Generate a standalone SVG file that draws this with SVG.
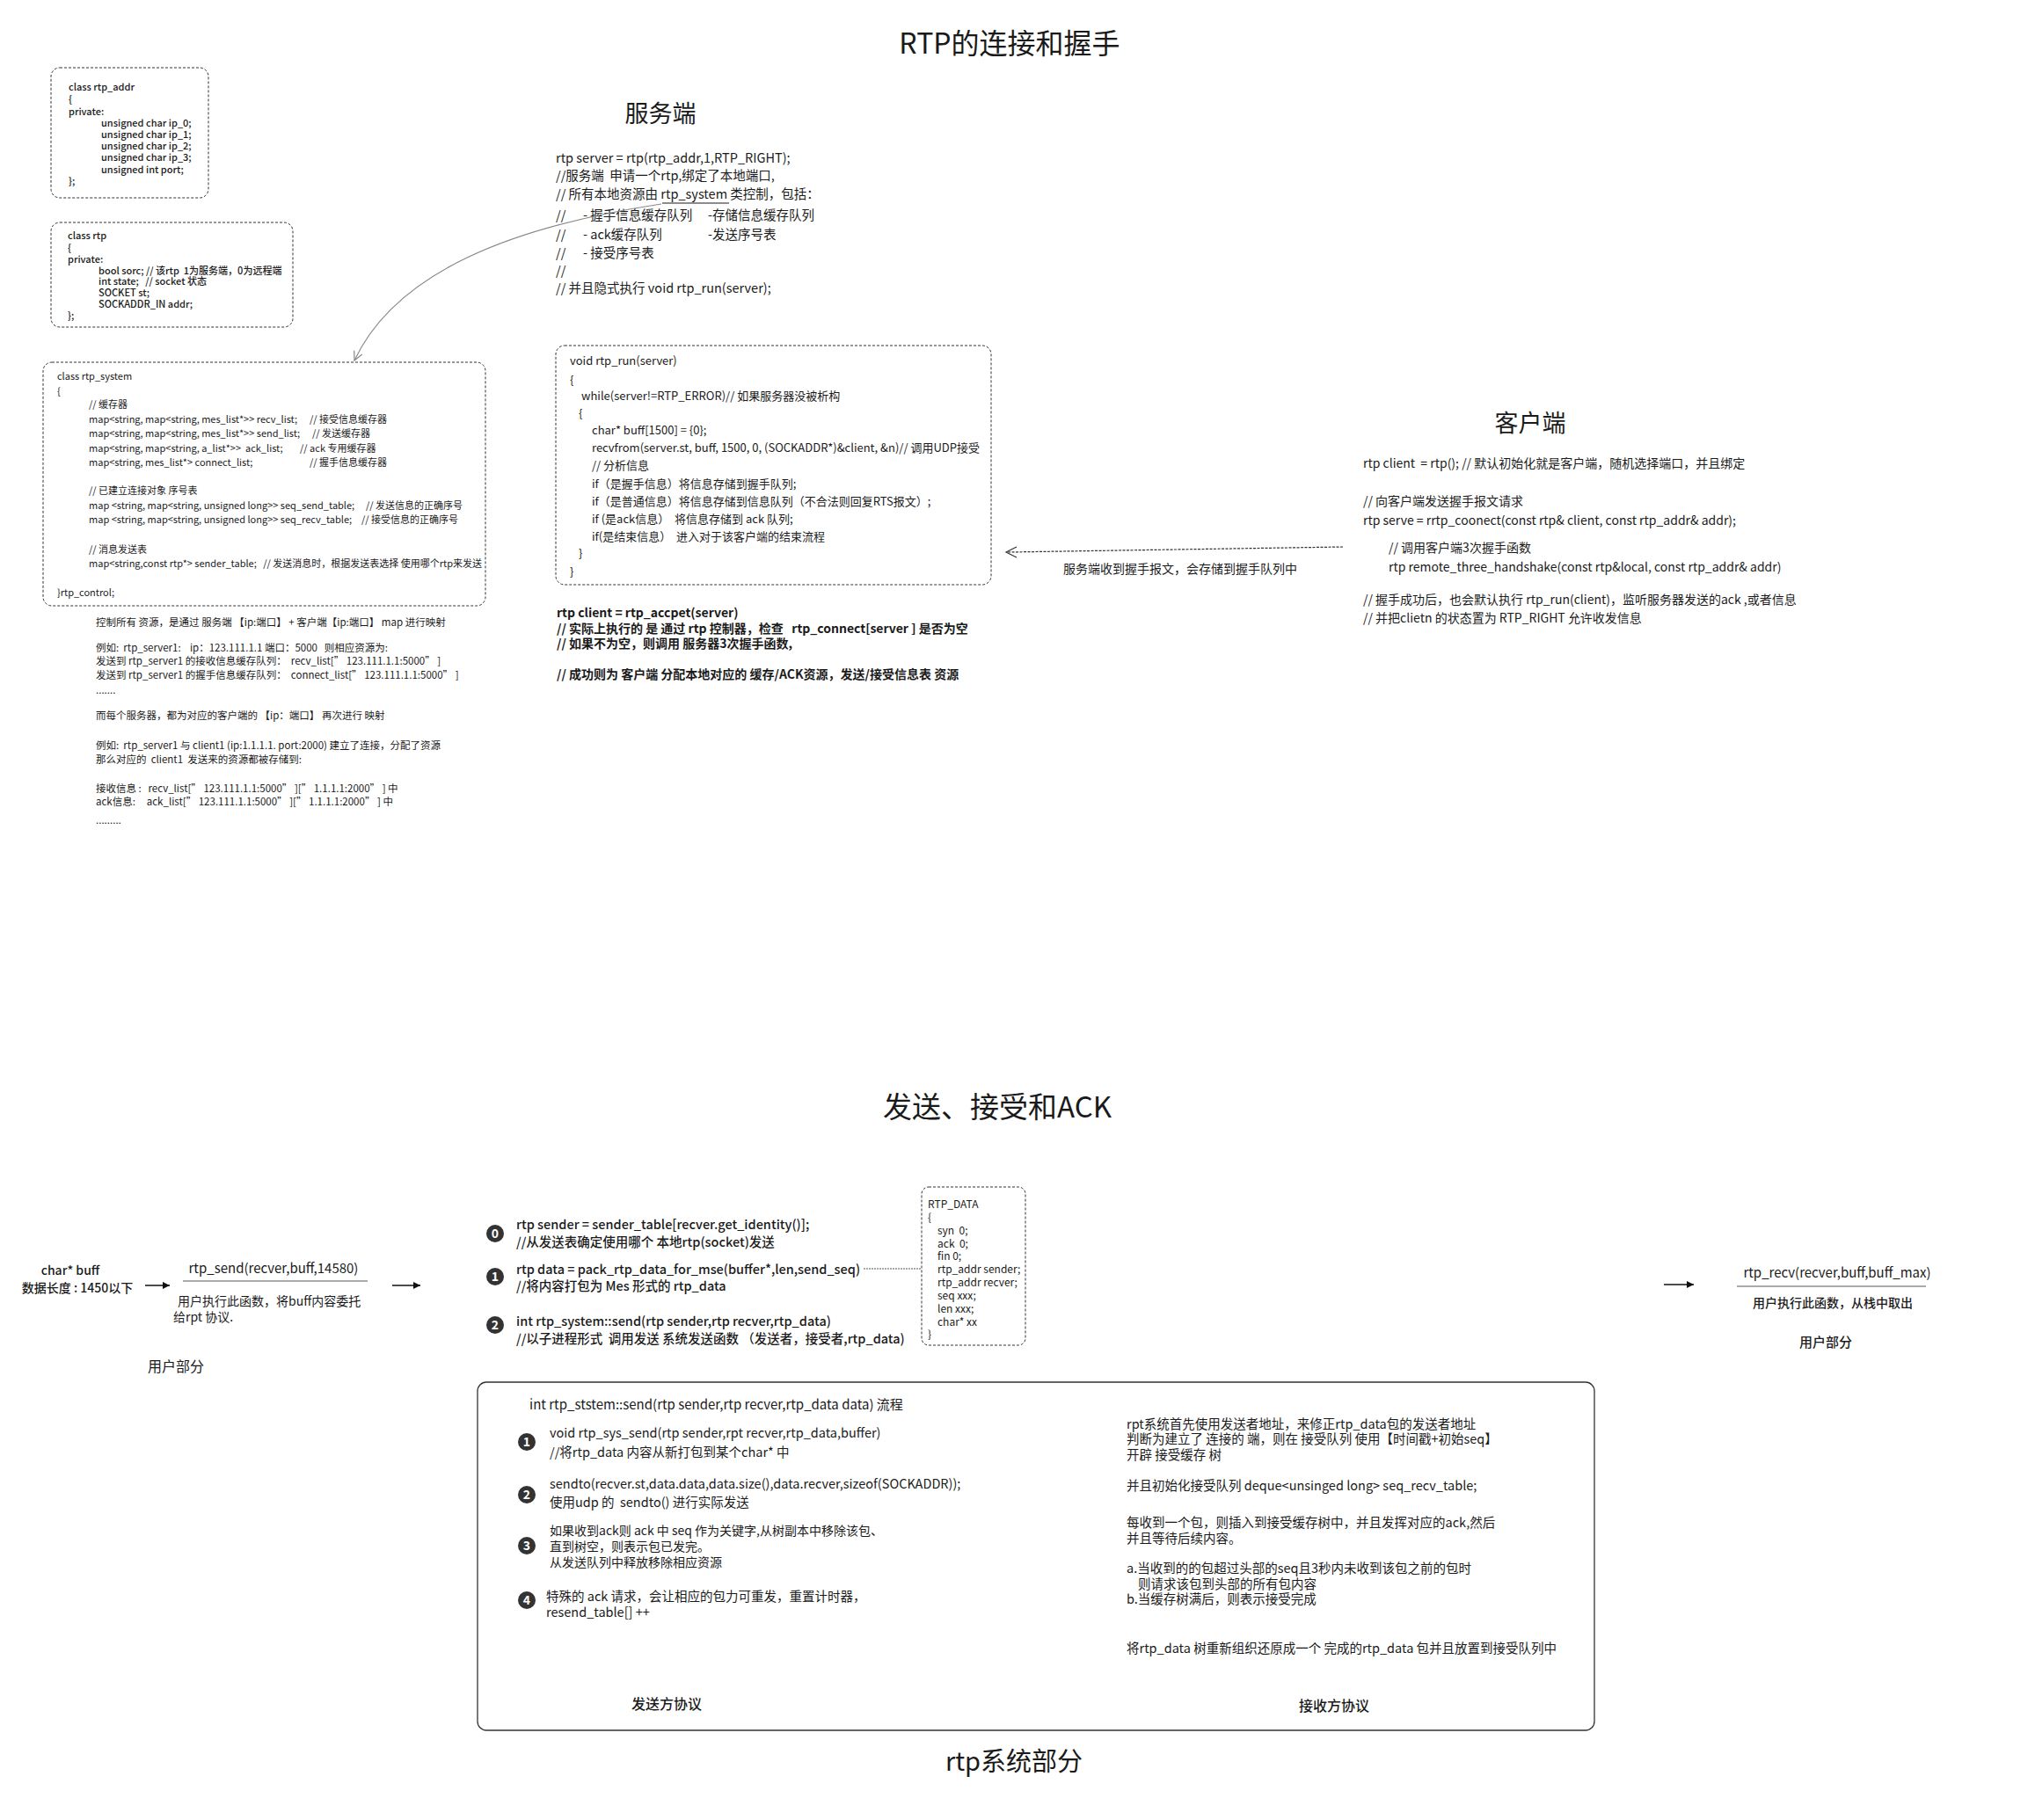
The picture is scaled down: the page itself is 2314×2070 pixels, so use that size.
<svg xmlns="http://www.w3.org/2000/svg" width="2314" height="2070" viewBox="0 0 2314 2070">
<style>
text { font-family: "Noto Sans CJK SC", "Noto Sans", sans-serif; fill: #1a1a1a; white-space: pre; }
.f11 { font-size: 11px; }
.f115 { font-size: 11.5px; }
.f13 { font-size: 13px; }
.f14 { font-size: 14px; }
.f145 { font-size: 14.5px; }
.f15 { font-size: 15px; }
.f16 { font-size: 16px; }
.b { font-weight: bold; }
.m { font-weight: 500; }
.c { text-anchor: middle; }
.dbox { fill: #fff; stroke: #333; stroke-width: 1; stroke-dasharray: 3 2; }
.num { fill: #333; }
.numt { fill: #fff; font-size: 14px; font-weight: bold; text-anchor: middle; }
</style>
<defs>
<marker id="openV" viewBox="0 0 12 12" refX="11" refY="6" markerWidth="12" markerHeight="12" markerUnits="userSpaceOnUse" orient="auto">
<path d="M1,1 L11,6 L1,11" fill="none" stroke="#888" stroke-width="1.2"/>
</marker>
<marker id="tri" viewBox="0 0 10 10" refX="10" refY="5" markerWidth="10" markerHeight="8" markerUnits="userSpaceOnUse" orient="auto">
<path d="M0,0 L10,5 L0,10 z" fill="#111"/>
</marker>
</defs>
<rect width="2314" height="2070" fill="#fff"/>

<g id="title1"><text x="1148" y="61" class="c" font-size="32">RTP的连接和握手</text></g>

<g id="rtp_addr">
<rect x="58" y="77" width="179" height="148" rx="10" class="dbox"/>
<text class="f11 m" x="78" y="103">class rtp_addr</text>
<text class="f11 m" x="78" y="117">{</text>
<text class="f11 m" x="78" y="131">private:</text>
<text class="f11 m" x="115" y="144">unsigned char ip_0;</text>
<text class="f11 m" x="115" y="157">unsigned char ip_1;</text>
<text class="f11 m" x="115" y="170">unsigned char ip_2;</text>
<text class="f11 m" x="115" y="183">unsigned char ip_3;</text>
<text class="f11 m" x="115" y="197">unsigned int port;</text>
<text class="f11 m" x="78" y="210">};</text>
</g>

<g id="rtp_class">
<rect x="58" y="253" width="275" height="119" rx="10" class="dbox"/>
<text class="f11 m" x="77" y="272">class rtp</text>
<text class="f11 m" x="77" y="286">{</text>
<text class="f11 m" x="77" y="299">private:</text>
<text class="f11 m" x="112" y="312">bool sorc; // 该rtp  1为服务端，0为远程端</text>
<text class="f11 m" x="112" y="324">int state;   // socket 状态</text>
<text class="f11 m" x="112" y="337">SOCKET st;</text>
<text class="f11 m" x="112" y="350">SOCKADDR_IN addr;</text>
<text class="f11 m" x="77" y="363">};</text>
</g>

<g id="rtp_system">
<rect x="49" y="412" width="503" height="277" rx="10" class="dbox"/>
<text class="f11" x="65" y="432">class rtp_system</text>
<text class="f11" x="65" y="449">{</text>
<text class="f11" x="101" y="464">// 缓存器</text>
<text class="f11" x="101" y="481">map&lt;string, map&lt;string, mes_list*&gt;&gt; recv_list;</text>
<text class="f11" x="352" y="481">// 接受信息缓存器</text>
<text class="f11" x="101" y="497">map&lt;string, map&lt;string, mes_list*&gt;&gt; send_list;</text>
<text class="f11" x="355" y="497">// 发送缓存器</text>
<text class="f11" x="101" y="514">map&lt;string, map&lt;string, a_list*&gt;&gt;  ack_list;</text>
<text class="f11" x="341" y="514">// ack 专用缓存器</text>
<text class="f11" x="101" y="530">map&lt;string, mes_list*&gt; connect_list;</text>
<text class="f11" x="352" y="530">// 握手信息缓存器</text>
<text class="f11" x="101" y="562">// 已建立连接对象 序号表</text>
<text class="f11" x="101" y="579">map &lt;string, map&lt;string, unsigned long&gt;&gt; seq_send_table;</text>
<text class="f11" x="416" y="579">// 发送信息的正确序号</text>
<text class="f11" x="101" y="595">map &lt;string, map&lt;string, unsigned long&gt;&gt; seq_recv_table;</text>
<text class="f11" x="411" y="595">// 接受信息的正确序号</text>
<text class="f11" x="101" y="629">// 消息发送表</text>
<text class="f11" x="101" y="645">map&lt;string,const rtp*&gt; sender_table;   // 发送消息时，根据发送表选择 使用哪个rtp来发送</text>
<text class="f11" x="65" y="678">}rtp_control;</text>
</g>

<g id="control_note">
<text class="f115" x="109" y="712">控制所有 资源，是通过 服务端 【ip:端口】 + 客户端【ip:端口】 map 进行映射</text>
<text class="f115" x="109" y="741">例如:  rtp_server1:    ip：123.111.1.1 端口：5000   则相应资源为:</text>
<text class="f115" x="109" y="756">发送到 rtp_server1 的接收信息缓存队列：  recv_list[” 123.111.1.1:5000” ]</text>
<text class="f115" x="109" y="772">发送到 rtp_server1 的握手信息缓存队列：  connect_list[” 123.111.1.1:5000” ]</text>
<text class="f115" x="109" y="789">.......</text>
<text class="f115" x="109" y="818">而每个服务器，都为对应的客户端的 【ip：端口】 再次进行 映射</text>
<text class="f115" x="109" y="852">例如:  rtp_server1 与 client1 (ip:1.1.1.1. port:2000) 建立了连接，分配了资源</text>
<text class="f115" x="109" y="868">那么对应的  client1  发送来的资源都被存储到:</text>
<text class="f115" x="109" y="901">接收信息 :   recv_list[” 123.111.1.1:5000” ][” 1.1.1.1:2000” ] 中</text>
<text class="f115" x="109" y="916">ack信息:     ack_list[” 123.111.1.1:5000” ][” 1.1.1.1:2000” ] 中</text>
<text class="f115" x="109" y="937">.........</text>
</g>

<g id="server">
<text x="751" y="139" class="c" font-size="27">服务端</text>
<text class="f145" x="632" y="185">rtp server = rtp(rtp_addr,1,RTP_RIGHT);</text>
<text class="f145" x="632" y="205">//服务端  申请一个rtp,绑定了本地端口,</text>
<text class="f145" x="632" y="226">// 所有本地资源由 rtp_system 类控制，包括：</text>
<line x1="753" y1="231" x2="829" y2="231" stroke="#1a1a1a" stroke-width="1"/>
<text class="f145" x="632" y="250">//</text>
<text class="f145" x="663" y="250">- 握手信息缓存队列</text>
<text class="f145" x="805" y="250">-存储信息缓存队列</text>
<text class="f145" x="632" y="272">//</text>
<text class="f145" x="663" y="272">- ack缓存队列</text>
<text class="f145" x="805" y="272">-发送序号表</text>
<text class="f145" x="632" y="293">//</text>
<text class="f145" x="663" y="293">- 接受序号表</text>
<text class="f145" x="632" y="313">//</text>
<text class="f145" x="632" y="333">// 并且隐式执行 void rtp_run(server);</text>
</g>

<g id="rtp_run">
<rect x="632" y="393" width="495" height="272" rx="10" class="dbox"/>
<text class="f13" x="648" y="415">void rtp_run(server)</text>
<text class="f13" x="648" y="437">{</text>
<text class="f13" x="661" y="455">while(server!=RTP_ERROR)// 如果服务器没被析构</text>
<text class="f13" x="658" y="475">{</text>
<text class="f13" x="673" y="494">char* buff[1500] = {0};</text>
<text class="f13" x="673" y="514">recvfrom(server.st, buff, 1500, 0, (SOCKADDR*)&amp;client, &amp;n)// 调用UDP接受</text>
<text class="f13" x="673" y="534">// 分析信息</text>
<text class="f13" x="673" y="555">if（是握手信息）将信息存储到握手队列;</text>
<text class="f13" x="673" y="575">if（是普通信息）将信息存储到信息队列（不合法则回复RTS报文）;</text>
<text class="f13" x="673" y="595">if (是ack信息）  将信息存储到 ack 队列;</text>
<text class="f13" x="673" y="615">if(是结束信息）  进入对于该客户端的结束流程</text>
<text class="f13" x="658" y="634">}</text>
<text class="f13" x="648" y="655">}</text>
</g>

<g id="accept">
<text class="f14 b" x="633" y="702">rtp client = rtp_accpet(server)</text>
<text class="f14 b" x="633" y="720">// 实际上执行的 是 通过 rtp 控制器，检查   rtp_connect[server ] 是否为空</text>
<text class="f14 b" x="633" y="737">// 如果不为空，则调用 服务器3次握手函数,</text>
<text class="f14 b" x="633" y="772">// 成功则为 客户端 分配本地对应的 缓存/ACK资源，发送/接受信息表 资源</text>
</g>

<g id="client">
<text x="1740" y="491" class="c" font-size="27">客户端</text>
<text class="f14" x="1550" y="532">rtp client  = rtp(); // 默认初始化就是客户端，随机选择端口，并且绑定</text>
<text class="f14" x="1550" y="575">// 向客户端发送握手报文请求</text>
<text class="f14" x="1550" y="597">rtp serve = rrtp_coonect(const rtp&amp; client, const rtp_addr&amp; addr);</text>
<text class="f14" x="1579" y="628">// 调用客户端3次握手函数</text>
<text class="f14" x="1579" y="650">rtp remote_three_handshake(const rtp&amp;local, const rtp_addr&amp; addr)</text>
<text class="f14" x="1550" y="687">// 握手成功后，也会默认执行 rtp_run(client)，监听服务器发送的ack ,或者信息</text>
<text class="f14" x="1550" y="708">// 并把clietn 的状态置为 RTP_RIGHT 允许收发信息</text>
</g>

<g id="connectors">
<path d="M752,232 C580,258 450,310 403,410" fill="none" stroke="#888" stroke-width="1.2" marker-end="url(#openV)"/>
<line x1="1527" y1="622" x2="1146" y2="628" stroke="#333" stroke-width="1.2" stroke-dasharray="3 1.5"/>
<path d="M1156,622 L1144,628 L1156,634" fill="none" stroke="#333" stroke-width="1.2"/>
<line x1="165" y1="1462" x2="193" y2="1462" stroke="#111" stroke-width="1.5" marker-end="url(#tri)"/>
<line x1="446" y1="1462" x2="478" y2="1462" stroke="#111" stroke-width="1.5" marker-end="url(#tri)"/>
<line x1="1892" y1="1461" x2="1926" y2="1461" stroke="#111" stroke-width="1.5" marker-end="url(#tri)"/>
<line x1="982" y1="1443" x2="1048" y2="1443" stroke="#555" stroke-width="1" stroke-dasharray="2 1"/>
</g>
<text x="1209" y="652" class="f14">服务端收到握手报文，会存储到握手队列中</text>

<g id="title2"><text x="1134" y="1271" class="c" font-size="33">发送、接受和ACK</text></g>

<g id="user_send">
<text class="f14 m c" x="80" y="1450">char* buff</text>
<text class="f14 m c" x="88" y="1470">数据长度 : 1450以下</text>
<text class="f15 c" x="311" y="1448">rtp_send(recver,buff,14580)</text>
<line x1="208" y1="1457" x2="418" y2="1457" stroke="#aaa" stroke-width="1.8"/>
<text class="f14" x="202" y="1485">用户执行此函数，将buff内容委托</text>
<text class="f14" x="197" y="1503">给rpt 协议.</text>
<text class="f16 c" x="200" y="1560">用户部分</text>
</g>

<g id="send_steps">
<circle cx="563" cy="1403" r="10" class="num"/><text class="numt" x="563" y="1408">0</text>
<text class="f145 m" x="587" y="1398">rtp sender = sender_table[recver.get_identity()];</text>
<text class="f145 m" x="587" y="1418">//从发送表确定使用哪个 本地rtp(socket)发送</text>
<circle cx="563" cy="1452" r="10" class="num"/><text class="numt" x="563" y="1457">1</text>
<text class="f145 m" x="587" y="1449">rtp data = pack_rtp_data_for_mse(buffer*,len,send_seq)</text>
<text class="f145 m" x="587" y="1468">//将内容打包为 Mes 形式的 rtp_data</text>
<circle cx="563" cy="1507" r="10" class="num"/><text class="numt" x="563" y="1512">2</text>
<text class="f145 m" x="587" y="1508">int rtp_system::send(rtp sender,rtp recver,rtp_data)</text>
<text class="f145 m" x="587" y="1528">//以子进程形式  调用发送 系统发送函数 （发送者，接受者,rtp_data)</text>
</g>

<g id="rtp_data">
<rect x="1048" y="1350" width="118" height="180" rx="8" class="dbox"/>
<text font-size="12" x="1055" y="1374">RTP_DATA</text>
<text font-size="12" x="1055" y="1389">{</text>
<text font-size="12" x="1066" y="1404">syn  0;</text>
<text font-size="12" x="1066" y="1419">ack  0;</text>
<text font-size="12" x="1066" y="1433">fin 0;</text>
<text font-size="12" x="1066" y="1448">rtp_addr sender;</text>
<text font-size="12" x="1066" y="1463">rtp_addr recver;</text>
<text font-size="12" x="1066" y="1478">seq xxx;</text>
<text font-size="12" x="1066" y="1493">len xxx;</text>
<text font-size="12" x="1066" y="1508">char* xx</text>
<text font-size="12" x="1055" y="1522">}</text>
</g>

<g id="user_recv">
<text class="f15 c" x="2089" y="1453">rtp_recv(recver,buff,buff_max)</text>
<line x1="1975" y1="1463" x2="2190" y2="1463" stroke="#aaa" stroke-width="1.8"/>
<text class="f14 m c" x="2084" y="1487">用户执行此函数，从栈中取出</text>
<text class="f15 m c" x="2076" y="1532">用户部分</text>
</g>

<g id="system_box">
<rect x="543" y="1572" width="1270" height="396" rx="10" fill="none" stroke="#333" stroke-width="1.3"/>
<text class="f15" x="602" y="1603">int rtp_ststem::send(rtp sender,rtp recver,rtp_data data) 流程</text>
<circle cx="599" cy="1640" r="10" class="num"/><text class="numt" x="599" y="1645">1</text>
<text class="f145" x="625" y="1635">void rtp_sys_send(rtp sender,rpt recver,rtp_data,buffer)</text>
<text class="f145" x="625" y="1657">//将rtp_data 内容从新打包到某个char* 中</text>
<circle cx="599" cy="1700" r="10" class="num"/><text class="numt" x="599" y="1705">2</text>
<text class="f145" x="625" y="1693">sendto(recver.st,data.data,data.size(),data.recver,sizeof(SOCKADDR));</text>
<text class="f145" x="625" y="1714">使用udp 的  sendto() 进行实际发送</text>
<circle cx="599" cy="1758" r="10" class="num"/><text class="numt" x="599" y="1763">3</text>
<text class="f14" x="625" y="1746">如果收到ack则 ack 中 seq 作为关键字,从树副本中移除该包、</text>
<text class="f14" x="625" y="1764">直到树空，则表示包已发完。</text>
<text class="f14" x="625" y="1782">从发送队列中释放移除相应资源</text>
<circle cx="599" cy="1820" r="10" class="num"/><text class="numt" x="599" y="1825">4</text>
<text class="f145" x="621" y="1821">特殊的 ack 请求，会让相应的包力可重发，重置计时器，</text>
<text class="f145" x="621" y="1839">resend_table[] ++</text>
<text class="f16 m c" x="758" y="1944">发送方协议</text>
<text class="f145" x="1281" y="1625">rpt系统首先使用发送者地址，来修正rtp_data包的发送者地址</text>
<text class="f145" x="1281" y="1642">判断为建立了 连接的 端，则在 接受队列 使用【时间戳+初始seq】</text>
<text class="f145" x="1281" y="1660">开辟 接受缓存 树</text>
<text class="f145" x="1281" y="1695">并且初始化接受队列 deque&lt;unsinged long&gt; seq_recv_table;</text>
<text class="f145" x="1281" y="1737">每收到一个包，则插入到接受缓存树中，并且发挥对应的ack,然后</text>
<text class="f145" x="1281" y="1755">并且等待后续内容。</text>
<text class="f145" x="1281" y="1789">a.当收到的的包超过头部的seq且3秒内未收到该包之前的包时</text>
<text class="f145" x="1294" y="1807">则请求该包到头部的所有包内容</text>
<text class="f145" x="1281" y="1824">b.当缓存树满后，则表示接受完成</text>
<text class="f145" x="1281" y="1880">将rtp_data 树重新组织还原成一个 完成的rtp_data 包并且放置到接受队列中</text>
<text class="f16 m c" x="1517" y="1946">接收方协议</text>
</g>

<g id="title3"><text x="1153" y="2014" class="c" font-size="29">rtp系统部分</text></g>
</svg>
